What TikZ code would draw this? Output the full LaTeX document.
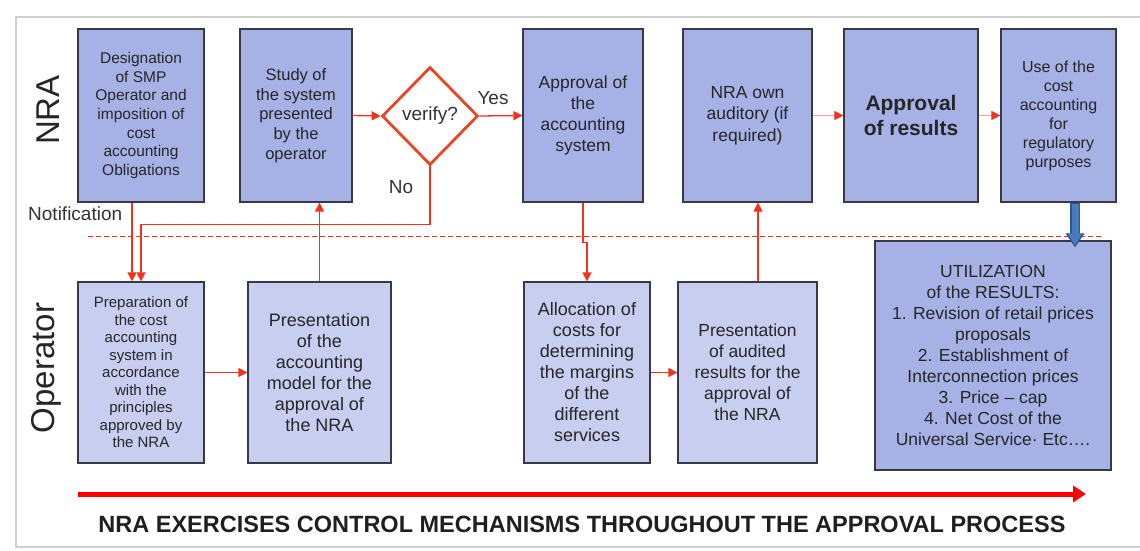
\documentclass[tikz,border=0pt]{standalone}
\usepackage{fontspec}
\setmainfont{Liberation Sans}
\usetikzlibrary{arrows.meta,shapes.geometric,calc}
\definecolor{nrafill}{RGB}{166,178,230}
\definecolor{opfill}{RGB}{200,206,240}
\definecolor{boxline}{RGB}{55,58,70}
\definecolor{flowred}{RGB}{240,50,30}
\definecolor{diared}{RGB}{232,70,36}
\definecolor{arrowblue}{RGB}{74,122,184}
\definecolor{arrowblueedge}{RGB}{47,85,151}
\definecolor{framegray}{RGB}{208,208,208}
\tikzset{
  nrabox/.style={draw=boxline, line width=1.2pt, fill=nrafill, align=center,
    inner sep=0pt, text=black!85},
  opbox/.style={draw=boxline, line width=1.2pt, fill=opfill, align=center,
    inner sep=0pt, text=black!85},
  flow/.style={draw=flowred, line width=1.3pt, -{Triangle[length=9pt,width=9pt]}},
  lane/.style={rotate=90, font=\fontsize{33}{33}\selectfont, text=black!85},
  tag/.style={font=\fontsize{19}{19}\selectfont, text=black!80, inner sep=0pt}
}
\begin{document}
\begin{tikzpicture}[x=1pt,y=-1pt]
\useasboundingbox (0,0) rectangle (1140,551);
\fill[white] (0,0) rectangle (1140,551);
% outer frame
\draw[framegray, line width=2.5pt] (16,17) rectangle (1141,547);

% lane titles
\node[lane] (lnra) at (48,110) {NRA};
\node[lane] (lop) at (46,368) {Operator};

% lane separator
\draw[flowred, line width=0.8pt, dash pattern=on 5pt off 3pt] (88,236) -- (1104,236);

% NRA row
\node[nrabox, minimum width=126pt, minimum height=173pt,
  font=\fontsize{15.5}{18.7}\selectfont] (b1) at (141,115.5)
  {Designation\\of SMP\\Operator and\\imposition of\\cost\\accounting\\Obligations};
\node[nrabox, minimum width=112pt, minimum height=173pt,
  font=\fontsize{16.5}{19.7}\selectfont] (b2) at (296,115.5)
  {Study of\\the system\\presented\\by the\\operator};
\node[draw=diared, line width=2.8pt, shape=diamond, fill=white,
  minimum width=96pt, minimum height=98pt, inner sep=0pt,
  font=\fontsize{19}{19}\selectfont, text=black!80] (dia) at (430,116) {verify?};
\node[nrabox, minimum width=120pt, minimum height=173pt,
  font=\fontsize{17.5}{21}\selectfont] (b3) at (583,115.5)
  {Approval of\\the\\accounting\\system};
\node[nrabox, minimum width=129pt, minimum height=173pt,
  font=\fontsize{17.5}{21.5}\selectfont] (b4) at (747.5,115.5)
  {NRA own\\auditory (if\\required)};
\node[nrabox, minimum width=134pt, minimum height=173pt,
  font=\bfseries\fontsize{21}{25}\selectfont] (b5) at (911,115.5)
  {Approval\\of results};
\node[nrabox, minimum width=115pt, minimum height=173pt,
  font=\fontsize{16}{19}\selectfont] (b6) at (1058.5,115.5)
  {Use of the\\cost\\accounting\\for\\regulatory\\purposes};

% Operator row
\node[opbox, minimum width=126pt, minimum height=181pt,
  font=\fontsize{15}{17.5}\selectfont] (b7) at (141,372.5)
  {Preparation of\\the cost\\accounting\\system in\\accordance\\with the\\principles\\approved by\\the NRA};
\node[opbox, minimum width=143pt, minimum height=181pt,
  font=\fontsize{18}{21}\selectfont] (b8) at (319.5,372.5)
  {Presentation\\of the\\accounting\\model for the\\approval of\\the NRA};
\node[opbox, minimum width=126pt, minimum height=181pt,
  font=\fontsize{18}{21}\selectfont] (b9) at (587,372.5)
  {Allocation of\\costs for\\determining\\the margins\\of the\\different\\services};
\node[opbox, minimum width=139pt, minimum height=181pt,
  font=\fontsize{17.5}{21}\selectfont] (b10) at (747.5,372.5)
  {Presentation\\of audited\\results for the\\approval of\\the NRA};
\node[nrabox, minimum width=236pt, minimum height=229pt,
  font=\fontsize{17.5}{21}\selectfont] (util) at (993,355.5)
  {UTILIZATION\\of the RESULTS:\\1. Revision of retail prices\\proposals\\2. Establishment of\\Interconnection prices\\3. Price -- cap\\4. Net Cost of the\\Universal Service· Etc….};

% labels on the connectors
\node[tag, anchor=west] (notif) at (28,214) {Notification};
\node[tag] (yes) at (493,98) {Yes};
\node[tag] (no) at (401,187) {No};

% connectors
\coordinate (nx) at (132,0);
\draw[flow] (nx |- b1.south) -- (nx |- b7.north);
\draw[flow] (dia.south) -- ++(0,58) -| (b7.north);
\draw[flow] (b7.east) -- (b8.west);
\draw[flow] (b8.north) -- (b8.north |- b2.south);
\draw[flow] (b2.east) -- (dia.west);
\draw[flow] (dia.east) -- (b3.west);
\draw[flow] (b3.south) -- ++(0,40) -| (b9.north);
\draw[flow] (b9.east) -- (b10.west);
\draw[flow] ($(b10.north)+(10.5,0)$) -- ($(b4.south)+(10.5,0)$);
\draw[flow, draw=flowred!45, -{Triangle[length=9pt,width=9pt,fill=flowred,color=flowred]}] (b4.east) -- (b5.west);
\draw[flow, draw=flowred!45, -{Triangle[length=9pt,width=9pt,fill=flowred,color=flowred]}] (b5.east) -- (b6.west);

% result hand-over to the utilization box
\draw[arrowblueedge, line width=9.5pt, -{Triangle[length=14pt,width=18pt]}]
  ($(b6.south)+(16.5,0)$) -- ($(util.north)+(82,7)$);
\draw[arrowblue, line width=7pt, -{Triangle[length=12pt,width=14pt]}]
  ($(b6.south)+(16.5,1)$) -- ($(util.north)+(82,5)$);

% overall process arrow and caption
\coordinate (pstart) at (78,494);
\coordinate (pend) at (1086,494);
\draw[red, line width=5pt, -{Triangle[length=13pt,width=16pt]}] (pstart) -- (pend);
\node[font=\bfseries\fontsize{23.5}{23.5}\selectfont, text=black!88] (caption) at (582,524)
  {NRA EXERCISES CONTROL MECHANISMS THROUGHOUT THE APPROVAL PROCESS};
\end{tikzpicture}
\end{document}
